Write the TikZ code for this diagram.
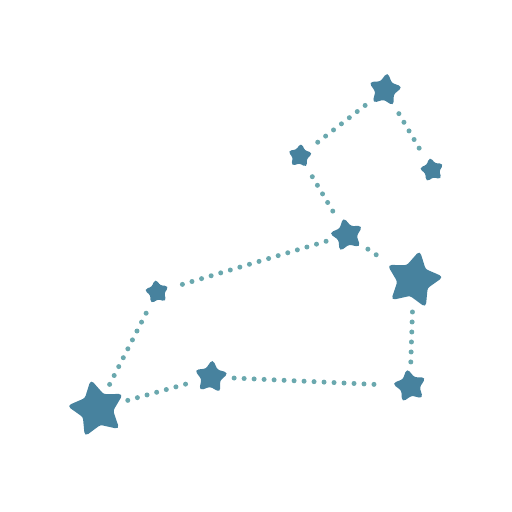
\documentclass[tikz,border=0pt]{standalone}
\usepackage{tikz}
\usetikzlibrary{shapes.geometric, positioning}
\definecolor{starteal}{HTML}{47829E}
\definecolor{dotteal}{HTML}{6AA8AE}

\begin{document}
\begin{tikzpicture}[
  starnode/.style={star, star points=5, star point ratio=1.85, fill=starteal, draw=starteal, line width=1.2pt, rounded corners=1.5pt, inner sep=0pt, minimum size=#1},
  bigstar/.style={starnode=1.12cm},
  midstar/.style={starnode=0.64cm},
  smallstar/.style={starnode=0.46cm},
  link/.style={dotteal, line width=0.1cm, line cap=round, dash pattern=on 0pt off 0.2cm, shorten >=6pt, shorten <=6pt}
]
  \useasboundingbox (0,0) rectangle (10.24,10.24);

  % Sickle
  \node[midstar, rotate=-8] (crown) at (7.70,8.44) {};
  \node[smallstar, rotate=10] (tip) at (8.64,6.84) {};
  \node[smallstar, rotate=-5] (neck) at (6.00,7.12) {};
  \node[midstar, rotate=12] (mane) at (6.94,5.54) {};
  \node[bigstar, rotate=-12] (heart) at (8.27,4.64) {};

  % Body
  \node[smallstar, rotate=8] (back) at (3.14,4.40) {};
  \node[bigstar, rotate=12] (tail) at (1.94,2.06) {};
  \node[midstar, rotate=-5] (belly) at (4.22,2.70) {};
  \node[midstar, rotate=10] (foot) at (8.20,2.52) {};

  % Links
  \draw[link] (crown) -- (tip);
  \draw[link] (crown) -- (neck);
  \draw[link] (neck) -- (mane);
  \draw[link] (mane) -- (heart);
  \draw[link] (mane) -- (back);
  \draw[link] (back) -- (tail);
  \draw[link] (tail) -- (belly);
  \draw[link] (belly) -- (foot);
  \draw[link] (foot) -- (heart);
\end{tikzpicture}
\end{document}
